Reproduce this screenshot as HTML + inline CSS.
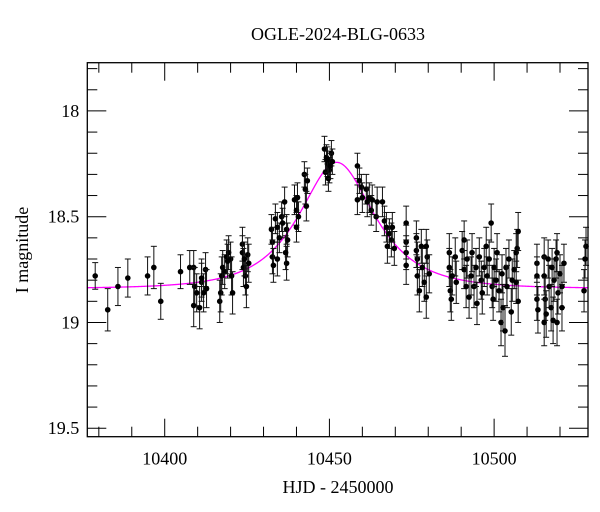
<!DOCTYPE html>
<html><head><meta charset="utf-8"><style>
body{margin:0;background:#fff}
svg{display:block;font-family:"Liberation Serif",serif}
</style></head><body>
<svg id="chart" width="600" height="512" viewBox="0 0 600 512" xmlns="http://www.w3.org/2000/svg">
<text x="338" y="40" font-size="18" text-anchor="middle">OGLE-2024-BLG-0633</text>
<text transform="translate(28,250) rotate(-90)" font-size="18" text-anchor="middle">I magnitude</text>
<text x="338" y="493" font-size="18" text-anchor="middle">HJD - 2450000</text>
<g id="grid"></g>
<g id="model"></g>
<g id="pts"></g>
<rect x="87.3" y="62.7" width="500.7" height="374" fill="none" stroke="#000" stroke-width="1.3"/>
</svg>
<script>
const times=[10378.9,10382.7,10385.8,10388.8,10394.8,10396.7,10398.8,10404.8,
10407.6,10408.8,10409.1,10408.8,10409.7,10410.6,10411.2,10411.8,10412.4,10412.7,10411.2,
10416.7,10417.0,10417.3,10417.6,10418.2,10418.8,10419.4,10420.0,10420.3,10420.6,10419.1,
10423.6,10423.6,10423.9,10424.5,10424.8,10425.2,10425.5,10424.2,
10432.4,10432.7,10432.7,10433.0,10433.6,10434.2,10434.8,10435.5,10435.8,10436.4,10437.0,10437.3,10437.0,10436.7,10434.2,
10439.4,10440.0,10440.0,10440.3,10440.6,10442.4,10442.7,10443.0,10443.3,
10448.5,10449.1,10449.4,10450.0,10448.8,10450.6,10449.7,10449.4,10450.3,10450.9,
10458.5,10458.5,10459.1,10459.7,10460.0,10461.2,10461.5,10462.1,10462.7,10463.0,10464.2,10464.5,10466.1,10466.7,10467.3,10467.6,10468.2,10468.8,10469.1,10469.7,
10473.3,10473.3,10473.3,10473.3,
10476.4,10476.4,10476.7,10476.7,10477.3,10477.9,10478.2,10478.8,10479.4,10479.7,10480.3,10479.4,
10486.4,10486.4,10486.7,10487.0,10487.3,10488.2,10488.5,
10490.3,10490.9,10490.9,10491.5,10491.8,10492.4,10493.0,10493.3,10493.9,10494.5,10494.8,10495.5,10496.1,10496.4,10497.0,10497.6,10497.9,10498.5,10499.1,10499.4,10499.7,10500.0,10500.6,10500.9,10501.5,10502.1,10502.4,10502.7,10503.3,10503.6,10503.9,10504.5,10505.2,10505.5,10506.1,10506.7,10506.7,10507.0,10507.3,10507.3,
10513.0,10513.0,10513.0,10513.3,10515.2,10515.2,10515.5,10515.2,10515.8,10516.4,10516.7,10517.3,10517.6,10517.9,10518.2,10518.8,10519.1,10519.4,10520.0,10520.6,10521.2,10520.6,10519.1,
10527.9,10527.6,10527.3];
const mags=[18.78,18.94,18.83,18.79,18.78,18.74,18.90,18.76,
18.74,18.74,18.83,18.92,18.86,18.93,18.81,18.86,18.75,18.84,18.79,
18.90,18.86,18.78,18.74,18.76,18.69,18.67,18.70,18.78,18.86,18.71,
18.63,18.67,18.74,18.78,18.83,18.68,18.72,18.70,
18.56,18.62,18.69,18.73,18.51,18.55,18.60,18.50,18.53,18.43,18.56,18.61,18.72,18.67,18.70,
18.42,18.47,18.55,18.41,18.50,18.30,18.37,18.45,18.33,
18.18,18.22,18.25,18.28,18.29,18.20,18.32,18.23,18.26,18.24,
18.26,18.42,18.33,18.36,18.41,18.37,18.43,18.41,18.47,18.42,18.50,18.43,18.43,18.52,18.55,18.64,18.58,18.61,18.55,18.65,
18.53,18.62,18.67,18.73,
18.60,18.66,18.70,18.78,18.85,18.64,18.74,18.81,18.88,18.69,18.77,18.64,
18.67,18.74,18.85,18.89,18.78,18.69,18.81,
18.66,18.61,18.75,18.83,18.70,18.88,18.78,18.67,18.83,18.74,18.91,18.69,18.80,18.86,18.74,18.64,18.78,18.70,18.53,18.83,18.89,18.74,18.80,18.67,18.85,19.00,18.77,18.93,19.04,18.74,18.83,18.70,18.95,18.80,18.75,18.67,18.81,18.65,18.57,18.90,
18.72,18.78,18.89,18.94,18.69,18.78,18.89,19.00,18.96,18.70,18.83,18.93,18.74,18.99,18.80,18.70,18.67,18.86,18.77,18.83,18.72,18.93,19.00,
18.64,18.70,18.85];
const errs=[0.063,0.10,0.09,0.09,0.09,0.10,0.085,0.08,
0.08,0.08,0.09,0.10,0.09,0.10,0.09,0.09,0.08,0.09,0.09,
0.10,0.09,0.09,0.08,0.08,0.08,0.08,0.08,0.09,0.10,0.08,
0.08,0.08,0.09,0.09,0.10,0.08,0.09,0.08,
0.07,0.07,0.08,0.08,0.07,0.07,0.07,0.07,0.07,0.07,0.07,0.08,0.08,0.08,0.08,
0.07,0.07,0.07,0.07,0.07,0.06,0.07,0.07,0.06,
0.06,0.06,0.06,0.06,0.06,0.06,0.06,0.06,0.06,0.06,
0.06,0.07,0.06,0.06,0.07,0.07,0.07,0.07,0.07,0.07,0.07,0.07,0.07,0.07,0.07,0.08,0.07,0.08,0.07,0.08,
0.08,0.08,0.08,0.09,
0.08,0.08,0.08,0.09,0.10,0.08,0.09,0.09,0.10,0.08,0.09,0.08,
0.09,0.09,0.10,0.10,0.09,0.09,0.10,
0.09,0.09,0.09,0.10,0.09,0.10,0.09,0.09,0.10,0.09,0.10,0.09,0.09,0.10,0.09,0.09,0.09,0.09,0.09,0.10,0.10,0.09,0.10,0.09,0.10,0.11,0.09,0.11,0.12,0.09,0.10,0.09,0.11,0.10,0.09,0.09,0.10,0.09,0.09,0.10,
0.09,0.09,0.10,0.11,0.09,0.09,0.10,0.11,0.11,0.09,0.10,0.11,0.09,0.11,0.10,0.09,0.09,0.10,0.09,0.10,0.09,0.11,0.11,
0.09,0.09,0.10];
const xTicks=[10400,10450,10500];
const yTicks=[18,18.5,19,19.5];
const modelT0=[10452.2];
const modelU0=[0.67];
const modelTE=[17];
const modelBase=[18.84];

const NS="http://www.w3.org/2000/svg";
const L=87.3,R=588,T=62.7,B=436.7;
const tMin=10376.5,tMax=10528.5,mMin=17.772,mMax=19.540;
const sx=t=>L+(t-tMin)/(tMax-tMin)*(R-L);
const sy=m=>T+(m-mMin)/(mMax-mMin)*(B-T);
function mk(tag,attrs,parent){const e=document.createElementNS(NS,tag);for(const k in attrs)e.setAttribute(k,attrs[k]);parent.appendChild(e);return e;}
const grid=document.getElementById('grid');
for(let t=10380;t<=10528;t+=10){
  const major=xTicks.includes(t);const len=major?18:10;const x=sx(t);
  const a=mk('line',{x1:x,x2:x,y1:B,y2:B-len,stroke:'#000','stroke-width':1},grid);
  
  
  const b=mk('line',{x1:x,x2:x,y1:T,y2:T+len,stroke:'#000','stroke-width':1},grid);
  
  
}
xTicks.forEach(t=>{
  const tx=mk('text',{x:sx(t),y:B+28,'font-size':18,'text-anchor':'middle'},grid);tx.textContent=t;
  
  
});
for(let i=178;i<=195;i++){
  const m=i/10;if(m<mMin||m>mMax)continue;
  const major=(i%5===0);const len=major?19:10;const y=sy(m);
  const a=mk('line',{x1:L,x2:L+len,y1:y,y2:y,stroke:'#000','stroke-width':1},grid);
  
  
  const b=mk('line',{x1:R,x2:R-len,y1:y,y2:y,stroke:'#000','stroke-width':1},grid);
  
  
}
yTicks.forEach(m=>{
  const tx=mk('text',{x:L-8,y:sy(m)+6,'font-size':18,'text-anchor':'end'},grid);tx.textContent=String(m);
  
  
});
function amp(u){return (u*u+2)/(u*Math.sqrt(u*u+4));}
let d='';
for(let t=tMin;t<=tMax;t+=0.25){
  const tau=(t-modelT0[0])/modelTE[0];const u=Math.sqrt(modelU0[0]*modelU0[0]+tau*tau);
  const m=modelBase[0]-2.5*Math.log10(amp(u));
  d+=(d?'L':'M')+sx(t).toFixed(2)+','+sy(m).toFixed(2);
}
const mp=mk('path',{d:d,fill:'none',stroke:'#ff00ff','stroke-width':1.3},document.getElementById('model'));


const pts=document.getElementById('pts');
times.forEach((t,i)=>{
  const x=sx(t),y=sy(mags[i]),y1=sy(mags[i]-errs[i]),y2=sy(mags[i]+errs[i]);
  const g=mk('g',{stroke:'#111','stroke-width':1},pts);
  
  
  mk('line',{x1:x,x2:x,y1:y1,y2:y2},g);
  mk('line',{x1:x-3,x2:x+3,y1:y1,y2:y1},g);
  mk('line',{x1:x-3,x2:x+3,y1:y2,y2:y2},g);
  mk('circle',{cx:x,cy:y,r:2.8,fill:'#000',stroke:'none'},g);
});
</script>
</body></html>
